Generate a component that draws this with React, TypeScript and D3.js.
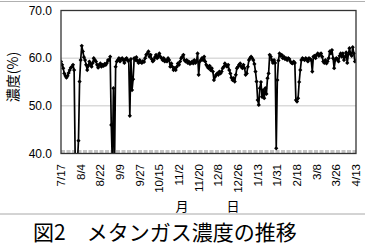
import React from "react";
import * as d3 from "d3";

// daily methane concentration (%) from 7/17 (day 0) to 4/13 (day 270)
const methane: number[] = [
  59.3, 58.6, 57.9, 56.8, 56.3, 55.9, 56.3, 56.9, 57.5, 58.0,
  58.2, 58.6, 57.5, 38.5, 37.5, 38.0, 42.7, 55.1, 59.6, 62.6,
  61.4, 60.2, 59.6, 58.6, 57.5, 58.4, 59.3, 58.8, 58.2, 59.0,
  60.0, 59.6, 59.3, 58.6, 58.0, 58.6, 58.9, 58.2, 58.6, 58.4,
  58.8, 58.6, 59.0, 59.6, 59.6, 60.3, 46.0, 38.0, 53.7, 38.0,
  58.2, 59.3, 59.6, 60.0, 59.3, 59.8, 60.0, 59.6, 59.0, 59.8,
  60.0, 59.5, 59.5, 47.9, 59.8, 53.3, 55.6, 60.0, 59.6, 60.2,
  59.4, 59.0, 59.6, 59.2, 59.0, 59.4, 59.2, 60.0, 60.7, 61.0,
  61.4, 60.3, 60.7, 59.8, 59.3, 59.6, 60.2, 60.7, 60.0, 60.4,
  61.0, 60.3, 60.0, 59.6, 60.0, 59.3, 59.6, 59.3, 60.0, 59.6,
  58.2, 58.9, 58.2, 57.5, 57.9, 57.5, 58.2, 58.9, 58.6, 59.3,
  60.0, 60.3, 60.7, 59.6, 59.3, 59.6, 59.0, 59.3, 58.8, 59.0,
  59.3, 58.9, 59.6, 59.0, 59.3, 61.0, 56.5, 59.3, 59.6, 60.0,
  59.6, 60.3, 59.3, 58.6, 58.2, 57.9, 58.4, 57.5, 57.9, 57.2,
  55.4, 56.1, 56.5, 56.8, 56.5, 57.2, 56.8, 57.2, 57.9, 58.2,
  58.9, 58.5, 58.2, 58.6, 57.5, 56.8, 55.9, 55.4, 55.8, 55.1,
  56.5, 57.9, 58.2, 58.6, 58.9, 58.2, 57.9, 58.6, 57.9, 56.5,
  56.8, 58.2, 59.6, 60.0, 60.3, 60.0, 59.6, 58.8, 57.2, 55.1,
  51.2, 50.2, 53.7, 55.0, 51.9, 53.3, 51.6, 53.7, 52.5, 55.8,
  56.8, 60.7, 60.3, 59.6, 59.0, 59.6, 59.0, 41.1, 55.4, 59.5,
  61.0, 60.5, 60.7, 60.0, 60.3, 59.8, 60.0, 59.6, 60.0, 59.8,
  59.3, 59.0, 58.9, 59.3, 59.0, 51.2, 50.9, 51.6, 55.0, 57.5,
  59.6, 60.0, 59.8, 59.6, 60.0, 59.8, 59.3, 60.0, 59.8, 59.6,
  57.2, 60.3, 60.5, 60.0, 60.7, 61.0, 60.5, 60.8, 61.0, 60.3,
  59.3, 59.0, 59.6, 58.9, 59.3, 60.0, 61.4, 61.0, 61.7, 60.0,
  57.9, 59.6, 60.0, 59.8, 59.3, 60.5, 61.0, 60.3, 61.0, 59.6,
  60.3, 61.2, 59.0, 60.8, 62.1, 61.0, 60.5, 62.3, 61.0, 59.3,
  59.5,
];

const xTickLabels: string[] = [
  "7/17", "8/4", "8/22", "9/9", "9/27", "10/15", "11/2", "11/20",
  "12/8", "12/26", "1/13", "1/31", "2/18", "3/8", "3/26", "4/13",
];
const tickStepDays = 18;
const yTicks: number[] = [40, 50, 60, 70];
const yGrid: number[] = [50, 60];

const W = 365;
const H = 250;
const left = 61;
const right = 356;
const top = 10.5;
const bottom = 153.5;

export default function App() {
  const x = d3.scaleLinear().domain([0, (xTickLabels.length - 1) * tickStepDays]).range([left, right]);
  const y = d3.scaleLinear().domain([40, 70]).range([bottom, top]);
  const line = d3
    .line<number>()
    .x((_, i) => x(i))
    .y((d) => y(d));
  const marker = d3.symbol(d3.symbolSquare, 9)() as string;
  const num = "'Liberation Sans', Arial, sans-serif";
  const cjk = "'Noto Sans CJK JP', sans-serif";

  return (
    <svg
      width={W}
      height={H}
      style={{ position: "absolute", left: 0, top: 0, display: "block", background: "#fff" }}
    >
      <defs>
        <clipPath id="plotclip">
          <rect x={left} y={top} width={right - left} height={bottom - top} />
        </clipPath>
      </defs>
      <line x1={0} x2={W} y1={1.5} y2={1.5} stroke="#b0b0b0" strokeWidth={1} />
      {yGrid.map((v) => (
        <line key={v} x1={left} x2={right} y1={y(v)} y2={y(v)} stroke="#c8c8c8" strokeWidth={1} />
      ))}
      <line
        x1={left}
        x2={right}
        y1={bottom - 2}
        y2={bottom - 2}
        stroke="#c4c4c4"
        strokeWidth={3}
        strokeDasharray="4,1.5"
      />
      <g clipPath="url(#plotclip)">
        <path d={line(methane) || ""} fill="none" stroke="#000" strokeWidth={1.7} strokeLinejoin="round" />
        {methane.map((v, i) => (
          <path key={i} d={marker} transform={`translate(${x(i)},${y(v)}) rotate(45)`} fill="#000" />
        ))}
      </g>
      <rect
        x={left}
        y={top}
        width={right - left}
        height={bottom - top}
        fill="none"
        stroke="#333"
        strokeWidth={1.3}
      />
      {yTicks.map((v) => (
        <text
          key={v}
          x={52}
          y={y(v)}
          dy="0.35em"
          textAnchor="end"
          fontFamily={num}
          fontSize={12}
          fill="#000"
        >
          {v.toFixed(1)}
        </text>
      ))}
      {xTickLabels.map((t, i) => (
        <text
          key={t}
          transform={`translate(${x(i * tickStepDays)},${164}) rotate(-90)`}
          dy="0.36em"
          textAnchor="end"
          fontFamily={num}
          fontSize={11.5}
          fill="#000"
        >
          {t}
        </text>
      ))}
      <text
        transform={`translate(13,77) rotate(-90)`}
        textAnchor="middle"
        dy="0.35em"
        fontFamily={cjk}
        fontSize={14}
        fill="#000"
      >
        濃度(%)
      </text>
      <text x={182} y={206} textAnchor="middle" dy="0.35em" fontFamily={cjk} fontSize={13} fill="#000">
        月
      </text>
      <text x={233} y={206} textAnchor="middle" dy="0.35em" fontFamily={cjk} fontSize={13} fill="#000">
        日
      </text>
      <line x1={0} x2={W} y1={214} y2={214} stroke="#a8a8a8" strokeWidth={1} />
      <text x={33} y={233} dy="0.35em" fontFamily={cjk} fontSize={21} fill="#000">
        図2　メタンガス濃度の推移
      </text>
    </svg>
  );
}
